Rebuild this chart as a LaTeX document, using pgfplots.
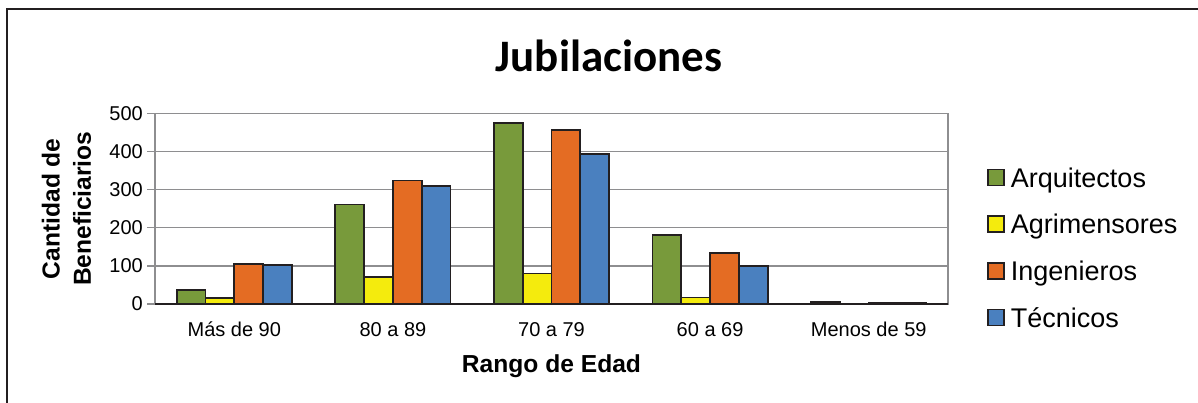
\documentclass[border=0pt]{standalone}
\usepackage{fontspec}
\setmainfont{Liberation Sans}
\newfontfamily\titlefont{Carlito}
\usepackage{pgfplots}
\pgfplotsset{compat=1.18}
\definecolor{cArq}{HTML}{789A3B}
\definecolor{cAgr}{HTML}{F4EB0D}
\definecolor{cIng}{HTML}{E46C23}
\definecolor{cTec}{HTML}{4A80BF}
\definecolor{cGrid}{HTML}{8E8E90}
\definecolor{cEdge}{HTML}{231F20}
\begin{document}
\begin{tikzpicture}
\useasboundingbox (0,0) rectangle (599pt,201pt);
\draw[line width=0.9pt, color=cEdge] (3.35pt,-20pt) -- (3.35pt,196.35pt) -- (640pt,196.35pt);
\begin{axis}[
  at={(77.5pt,49pt)}, anchor=south west,
  scale only axis, width=396.5pt, height=95.25pt,
  ybar=0pt, bar width=14.4pt,
  xmin=-0.5, xmax=4.5, ymin=0, ymax=500,
  xtick={0,1,2,3,4},
  xticklabels={Más de 90, 80 a 89, 70 a 79, 60 a 69, Menos de 59},
  ytick={0,100,...,500},
  ymajorgrids,
  grid style={color=cGrid, line width=0.7pt},
  axis line style={color=cGrid, line width=0.7pt},
  extra y ticks={0}, extra y tick labels={},
  extra y tick style={grid style={color=cEdge, line width=0.8pt}},
  xtick style={draw=none},
  ytick style={color=cGrid, line width=0.7pt, xshift=-4pt},
  tick align=inside, major tick length=4pt, tick pos=left,
  /pgf/number format/assume math mode=true,
  ticklabel style={font=\fontsize{10}{12}\selectfont},
  xticklabel style={anchor=base, inner sep=0pt, yshift=-16.4pt},
  yticklabel style={anchor=east, inner sep=0pt, xshift=-5.9pt},
  every axis x label/.style={at={(axis description cs:0.5,0)}, anchor=base, yshift=-34.3pt, font=\bfseries\fontsize{12.3}{13.5}\selectfont},
  every axis y label/.style={at={(axis description cs:-0.1116,0.5)}, anchor=center, rotate=90, align=center, font=\bfseries\fontsize{12.3}{13.5}\selectfont},
  every axis title/.style={at={(axis description cs:0.5725,1)}, anchor=base, yshift=20.9pt, font=\titlefont\bfseries\fontsize{22.5}{27}\selectfont},
  title={Jubilaciones},
  xlabel={Rango de Edad},
  ylabel={Cantidad de\\[2.2pt]Beneficiarios},
  legend style={draw=none, fill=none, at={(axis description cs:1.0496,0.2966)}, anchor=west, inner sep=0pt, outer sep=0pt, row sep=10.35pt, font=\fontsize{13.5}{16}\selectfont, nodes={inner sep=0pt, text height=11.33pt, text depth=1.67pt}, /tikz/every odd column/.append style={column sep=3pt}},
  legend cell align=left,
  legend image code/.code={\draw[#1, line width=0.8pt] (0pt,-4pt) rectangle (8pt,4pt);},
]
\addplot[fill=cArq, draw=cEdge, line width=0.9pt] coordinates {(0,37) (1,261) (2,476) (3,182) (4,5)};
\addplot[fill=cAgr, draw=cEdge, line width=0.9pt] coordinates {(0,16) (1,71) (2,80) (3,17) (4,0)};
\addplot[fill=cIng, draw=cEdge, line width=0.9pt] coordinates {(0,106) (1,324) (2,457) (3,134) (4,2)};
\addplot[fill=cTec, draw=cEdge, line width=0.9pt] coordinates {(0,103) (1,310) (2,393) (3,100) (4,4)};
\legend{Arquitectos, Agrimensores, Ingenieros, Técnicos}
\end{axis}
\end{tikzpicture}
\end{document}
